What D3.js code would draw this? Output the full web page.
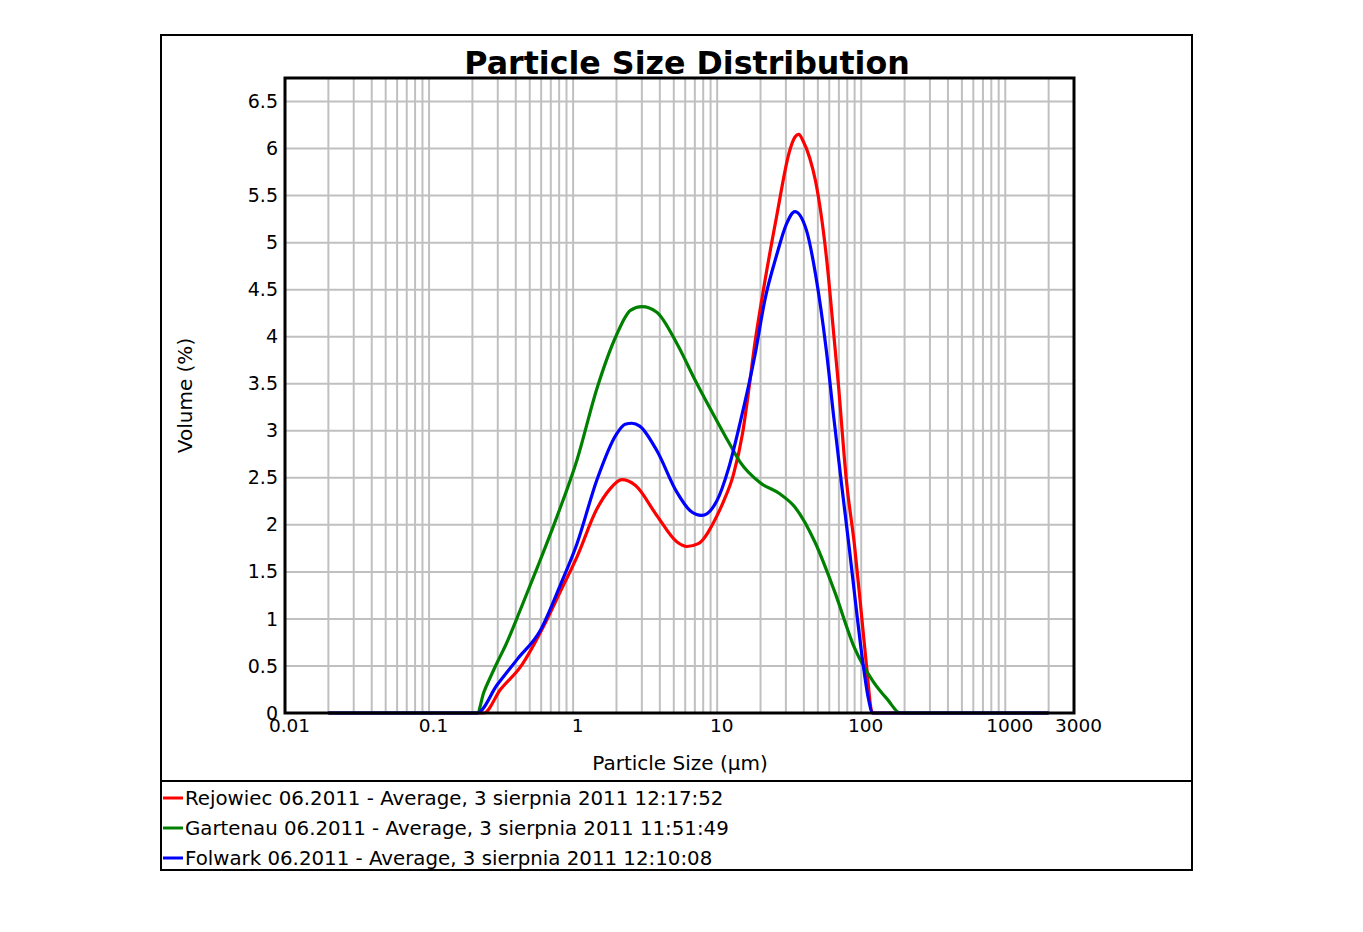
<!DOCTYPE html>
<html>
<head>
<meta charset="utf-8">
<script src="https://cdn.jsdelivr.net/npm/d3@7"></script>
<style>
  html, body { margin: 0; padding: 0; background: #fff; }
  svg { display: block; }
  text { font-family: "DejaVu Sans", Verdana, sans-serif; fill: #000; }
</style>
</head>
<body>
<svg id="chart" width="1363" height="932"></svg>
<script>
// ---- data ----
const seriesNames = [
  "Rejowiec 06.2011 - Average, 3 sierpnia 2011 12:17:52",
  "Gartenau 06.2011 - Average, 3 sierpnia 2011 11:51:49",
  "Folwark 06.2011 - Average, 3 sierpnia 2011 12:10:08"
];
const seriesColors = ["#ff0000", "#008000", "#0000ff"];

const redSize = [0.02, 0.24, 0.313, 0.431, 0.642, 0.815, 1.064, 1.464, 1.8, 2.18, 2.7, 3.81, 5.24, 6.15, 7.4, 9.92, 11, 13, 15, 16.3, 18.27, 21.5, 25.8, 31.9, 34.6, 36.9, 39.5, 43.9, 48.1, 57.3, 64.7, 69.0, 78.8, 90.0, 100.2, 109.5, 117.5, 120.5, 2000];
const redVal  = [0, 0, 0.25, 0.49, 0.96, 1.29, 1.66, 2.17, 2.38, 2.48, 2.42, 2.10, 1.82, 1.77, 1.80, 2.09, 2.24, 2.54, 2.97, 3.35, 3.93, 4.60, 5.27, 5.98, 6.12, 6.15, 6.08, 5.90, 5.66, 4.85, 4.00, 3.54, 2.48, 1.77, 1.06, 0.46, 0.03, 0, 0];

const greenSize = [0.02, 0.216, 0.24, 0.27, 0.3, 0.34, 0.431, 0.562, 0.774, 1.064, 1.464, 1.991, 2.5, 3.0, 3.81, 5.24, 7.02, 9.92, 12, 14.4, 19.79, 27.2, 34.6, 47.6, 65.4, 90.0, 120.5, 153, 186.6, 2000];
const greenVal  = [0, 0, 0.22, 0.40, 0.55, 0.72, 1.10, 1.54, 2.09, 2.69, 3.45, 4.01, 4.28, 4.32, 4.26, 3.93, 3.54, 3.11, 2.88, 2.67, 2.45, 2.33, 2.19, 1.82, 1.29, 0.69, 0.34, 0.14, 0, 0];

const blueSize = [0.02, 0.216, 0.297, 0.409, 0.593, 0.815, 1.064, 1.464, 1.991, 2.3, 2.557, 2.9, 3.81, 5.24, 6.5, 7.81, 9.92, 12, 14.4, 18.27, 21.5, 25.8, 30.3, 34.6, 41.7, 48.1, 57.3, 64.4, 72.8, 83.1, 92.5, 102.8, 111.3, 120.5, 2000];
const blueVal  = [0, 0, 0.30, 0.57, 0.88, 1.36, 1.80, 2.48, 2.96, 3.07, 3.08, 3.05, 2.79, 2.35, 2.15, 2.10, 2.25, 2.60, 3.08, 3.80, 4.40, 4.86, 5.20, 5.33, 5.13, 4.67, 3.85, 3.15, 2.45, 1.72, 1.10, 0.53, 0.18, 0, 0];

const xTickValues = [0.01, 0.1, 1, 10, 100, 1000, 3000];
const xTickLabels = ["0.01", "0.1", "1", "10", "100", "1000", "3000"];
const yTickValues = [0, 0.5, 1, 1.5, 2, 2.5, 3, 3.5, 4, 4.5, 5, 5.5, 6, 6.5];
const yTickLabels = ["0", "0.5", "1", "1.5", "2", "2.5", "3", "3.5", "4", "4.5", "5", "5.5", "6", "6.5"];

const titleText = "Particle Size Distribution";
const xTitle = "Particle Size (\u00b5m)";
const yTitle = "Volume (%)";

// ---- layout ----
const svg = d3.select("#chart");
const frame = { x: 161, y: 35, w: 1031, h: 835 };
const plot = { left: 285, right: 1074, top: 78, bottom: 713 };
const legendSepY = 781;

const x = d3.scaleLog().domain([0.01, 3000]).range([plot.left, plot.right]);
const y = d3.scaleLinear().domain([0, 6.75]).range([plot.bottom, plot.top]);

// outer frame
svg.append("rect")
  .attr("x", frame.x).attr("y", frame.y).attr("width", frame.w).attr("height", frame.h)
  .attr("fill", "#fff").attr("stroke", "#000").attr("stroke-width", 2);

// grid
const gridX = [];
for (let k = -2; k <= 3; k++) for (let m = 1; m <= 9; m++) {
  const v = m * Math.pow(10, k);
  if (v >= 0.02 && v <= 2000) gridX.push(v);
}
const grid = svg.append("g").attr("stroke", "#c0c0c0").attr("stroke-width", 2);
grid.selectAll("line.gx").data(gridX).join("line").attr("class", "gx")
  .attr("x1", d => x(d)).attr("x2", d => x(d))
  .attr("y1", plot.top).attr("y2", plot.bottom);
grid.selectAll("line.gy").data(yTickValues.filter(d => d > 0)).join("line").attr("class", "gy")
  .attr("x1", plot.left).attr("x2", plot.right)
  .attr("y1", d => y(d)).attr("y2", d => y(d));

// series
const line = d3.line().x(d => x(d[0])).y(d => y(d[1])).curve(d3.curveMonotoneX);
const series = [
  { sizes: redSize, vals: redVal, color: seriesColors[0] },
  { sizes: greenSize, vals: greenVal, color: seriesColors[1] },
  { sizes: blueSize, vals: blueVal, color: seriesColors[2] }
];
const lines = svg.append("g");
series.forEach(s => {
  lines.append("path")
    .datum(s.sizes.map((v, i) => [v, s.vals[i]]))
    .attr("d", line)
    .attr("fill", "none")
    .attr("stroke", s.color)
    .attr("stroke-width", 3.2)
    .attr("stroke-linejoin", "round");
});

// plot border
svg.append("rect")
  .attr("x", plot.left).attr("y", plot.top)
  .attr("width", plot.right - plot.left).attr("height", plot.bottom - plot.top)
  .attr("fill", "none").attr("stroke", "#000").attr("stroke-width", 3);

// axes
const xAxis = d3.axisBottom(x).tickValues(xTickValues)
  .tickFormat((d, i) => xTickLabels[i]).tickSize(0).tickPadding(6);
const gx = svg.append("g").attr("transform", `translate(0,${plot.bottom})`).call(xAxis);
gx.select(".domain").remove();
gx.selectAll("text").attr("font-size", 18.5).attr("font-family", "DejaVu Sans")
  .attr("dx", 4).attr("fill", "#000");

const yAxis = d3.axisLeft(y).tickValues(yTickValues)
  .tickFormat((d, i) => yTickLabels[i]).tickSize(0).tickPadding(7);
const gy = svg.append("g").attr("transform", `translate(${plot.left},0)`).call(yAxis);
gy.select(".domain").remove();
gy.selectAll("text").attr("font-size", 19).attr("font-family", "DejaVu Sans").attr("fill", "#000");

// titles
svg.append("text").attr("x", 687).attr("y", 74)
  .attr("text-anchor", "middle").attr("font-size", 31.7).attr("font-weight", "bold")
  .text(titleText);
svg.append("text").attr("x", 680).attr("y", 770)
  .attr("text-anchor", "middle").attr("font-size", 20).text(xTitle);
svg.append("text").attr("transform", `translate(192,${(plot.top + plot.bottom) / 2}) rotate(-90)`)
  .attr("text-anchor", "middle").attr("font-size", 20).text(yTitle);

// legend
svg.append("line").attr("x1", frame.x).attr("x2", frame.x + frame.w)
  .attr("y1", legendSepY).attr("y2", legendSepY).attr("stroke", "#000").attr("stroke-width", 2);
const leg = svg.append("g");
seriesNames.forEach((name, i) => {
  const cy = 798 + i * 30;
  leg.append("line").attr("x1", 163).attr("x2", 183).attr("y1", cy).attr("y2", cy)
    .attr("stroke", seriesColors[i]).attr("stroke-width", 3);
  leg.append("text").attr("x", 185).attr("y", cy).attr("dy", "0.35em")
    .attr("font-size", 19.8).text(name);
});
</script>
</body>
</html>
